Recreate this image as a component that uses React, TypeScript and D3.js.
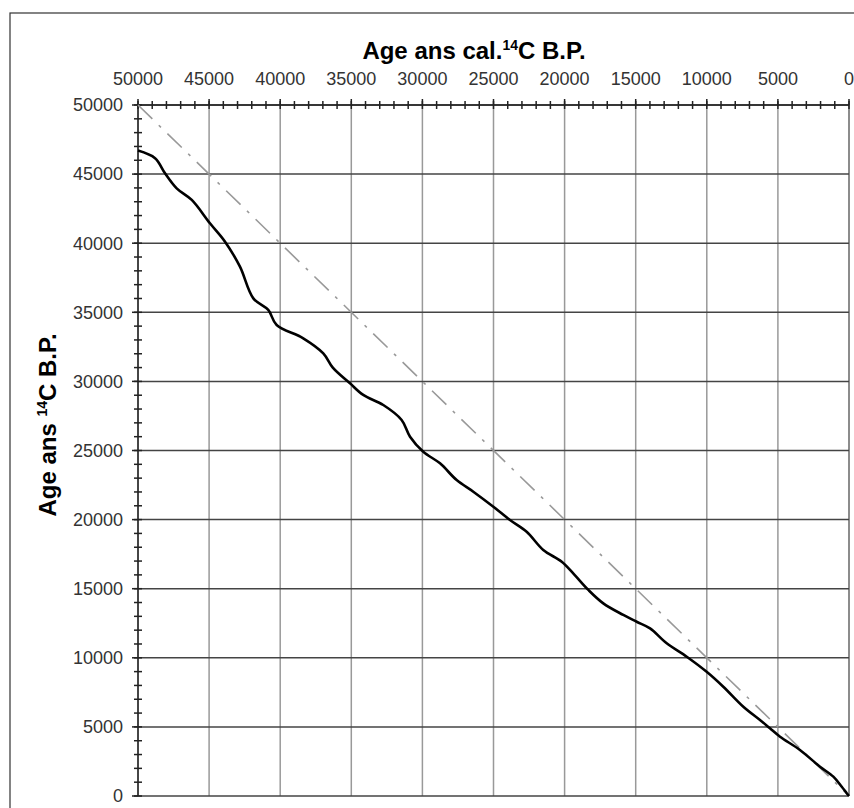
import React from "react";
import * as d3 from "d3";

const calAges = [50000, 48800, 48100, 47280, 46220, 44940, 43880, 42830, 41890, 40840, 40250, 38380, 36970, 36300, 35090, 34160, 32750, 31460, 30870, 29940, 28760, 27590, 26420, 25010, 23840, 22670, 21500, 20200, 19300, 18330, 17280, 15870, 14930, 13990, 12820, 11410, 10010, 8840, 7430, 6260, 5560, 4850, 3450, 2040, 1100, 510, 160, 0];
const c14Ages = [46700, 46150, 45060, 43970, 43130, 41440, 40110, 38300, 36010, 35170, 34080, 33120, 32030, 31000, 29860, 29020, 28290, 27210, 26000, 24910, 24070, 22860, 22020, 20930, 19970, 19120, 17800, 16950, 16000, 14910, 13940, 13100, 12610, 12130, 11050, 10080, 8990, 7910, 6460, 5500, 4900, 4290, 3330, 2120, 1400, 670, 200, 0];
const refLine = [50000, 0];
const majorTicks = [50000, 45000, 40000, 35000, 30000, 25000, 20000, 15000, 10000, 5000, 0];
const minorTicks = d3.range(0, 50001, 1000);

export default function App() {
  const W = 854, H = 808;
  const left = 138, right = 849, top = 105, bottom = 796;
  const x = d3.scaleLinear().domain([50000, 0]).range([left, right]);
  const y = d3.scaleLinear().domain([0, 50000]).range([bottom, top]);
  const pts: [number, number][] = calAges.map((c, i) => [c, c14Ages[i]]);
  const line = d3.line<[number, number]>().x(d => x(d[0])).y(d => y(d[1])).curve(d3.curveCatmullRom.alpha(0.5));
  const straight = d3.line<[number, number]>().x(d => x(d[0])).y(d => y(d[1]));
  const font = "'Liberation Sans', Arial, sans-serif";
  return (
    <svg width={W} height={H} style={{ position: "absolute", left: 0, top: 0, background: "#fff" }} fontFamily={font}>
      <rect x={10} y={13} width={W} height={H} fill="#fff" stroke="#333" strokeWidth={1.2} />
      {majorTicks.map(t => (
        <line key={"vg" + t} x1={x(t)} x2={x(t)} y1={top} y2={bottom} stroke={t === 0 ? "#666" : "#999"} strokeWidth={1.5} />
      ))}
      {majorTicks.map(t => (
        <line key={"hg" + t} x1={left} x2={right} y1={y(t)} y2={y(t)} stroke="#444" strokeWidth={1.5} />
      ))}
      <line x1={left} x2={right} y1={top} y2={top} stroke="#222" strokeWidth={1.5} />
      <line x1={left} x2={left} y1={top} y2={bottom} stroke="#222" strokeWidth={1.5} />
      {minorTicks.map(t => (
        <line key={"xm" + t} x1={x(t)} x2={x(t)} y1={top - 4} y2={top + 4} stroke="#222" strokeWidth={1.5} />
      ))}
      {minorTicks.map(t => (
        <line key={"ym" + t} x1={left - 4} x2={left + 4} y1={y(t)} y2={y(t)} stroke="#222" strokeWidth={1.5} />
      ))}
      {majorTicks.map(t => (
        <line key={"xM" + t} x1={x(t)} x2={x(t)} y1={top - 6} y2={top} stroke="#222" strokeWidth={1.5} />
      ))}
      {majorTicks.map(t => (
        <line key={"yM" + t} x1={left - 6} x2={left} y1={y(t)} y2={y(t)} stroke="#222" strokeWidth={1.5} />
      ))}
      {majorTicks.map(t => (
        <text key={"xl" + t} x={x(t)} y={85} textAnchor="middle" fontSize={18} fill="#333">{t}</text>
      ))}
      {majorTicks.map(t => (
        <text key={"yl" + t} x={123} y={y(t)} dy="0.35em" textAnchor="end" fontSize={18} fill="#333">{t}</text>
      ))}
      <path d={straight(refLine.map(v => [v, v]) as [number, number][]) || ""} fill="none" stroke="#999" strokeWidth={1.6} strokeDasharray="20 9 3 9" />
      <path d={line(pts) || ""} fill="none" stroke="#000" strokeWidth={2.6} strokeLinejoin="round" />
      <text x={474} y={59} textAnchor="middle" fontSize={24} fontWeight="bold" fill="#000">
        Age ans cal.<tspan fontSize={14} dy={-9}>14</tspan><tspan dy={9}>C B.P.</tspan>
      </text>
      <text transform="translate(56,425) rotate(-90)" textAnchor="middle" fontSize={24} fontWeight="bold" fill="#000">
        Age ans <tspan fontSize={14} dy={-9}>14</tspan><tspan dy={9}>C B.P.</tspan>
      </text>
    </svg>
  );
}
